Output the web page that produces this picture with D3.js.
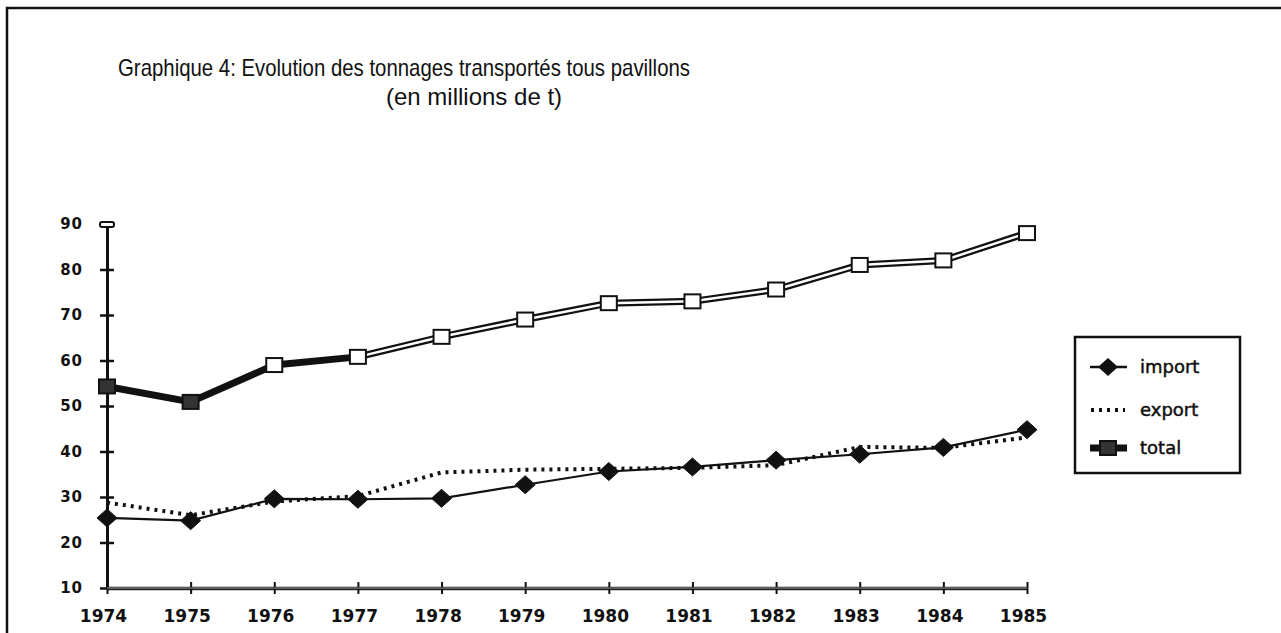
<!DOCTYPE html>
<html>
<head>
<meta charset="utf-8">
<script src="https://cdn.jsdelivr.net/npm/d3@7"></script>
<style>
  body { margin: 0; background: #fff; }
  svg { display: block; }
</style>
</head>
<body>
<div id="chart"></div>
<script>
// data (millions de t)
let years = [1974, 1975, 1976, 1977, 1978, 1979, 1980, 1981, 1982, 1983, 1984, 1985];
let importVals = [25.4, 24.8, 29.6, 29.5, 29.7, 32.7, 35.6, 36.6, 38.1, 39.4, 40.9, 44.8];
let exportVals = [28.8, 26.0, 29.0, 30.2, 35.4, 36.0, 36.2, 36.4, 37.0, 41.0, 40.8, 43.1];
let totalVals = [54.3, 50.9, 59.0, 60.8, 65.2, 69.0, 72.6, 73.0, 75.6, 81.0, 82.0, 88.0];
let yTicks = [10, 20, 30, 40, 50, 60, 70, 80, 90];
let seriesNames = ["import", "export", "total"];

let W = 1281, H = 633;

let svg = d3.select("#chart")
  .append("svg")
  .attr("width", W)
  .attr("height", H);

// outer frame (open at right and bottom)
svg.append("path")
  .attr("d", "M7,640 L7,8 L1290,8")
  .attr("fill", "none")
  .attr("stroke", "#111")
  .attr("stroke-width", 2.5);

// title
let titleFont = "Liberation Sans, Arial, sans-serif";
svg.append("text")
  .attr("x", 118).attr("y", 76)
  .attr("font-family", titleFont)
  .attr("font-size", 24)
  .attr("textLength", 572)
  .attr("lengthAdjust", "spacingAndGlyphs")
  .attr("fill", "#111")
  .text("Graphique 4: Evolution des tonnages transportés tous pavillons");
svg.append("text")
  .attr("x", 386).attr("y", 105)
  .attr("font-family", titleFont)
  .attr("font-size", 24)
  .attr("fill", "#111")
  .text("(en millions de t)");

// scales
let x = d3.scaleLinear().domain([1974, 1985]).range([107, 1027]);
let y = d3.scaleLinear().domain([10, 90]).range([588, 224]);

// y axis
let yAxis = svg.append("g")
  .attr("transform", "translate(" + x(1974) + ",0)")
  .call(d3.axisLeft(y).tickValues(yTicks).tickSizeInner(7).tickSizeOuter(0).tickPadding(17));
yAxis.select(".domain").attr("stroke", "#111").attr("stroke-width", 3);
yAxis.selectAll(".tick line").attr("stroke", "#111").attr("stroke-width", 2.5);
yAxis.selectAll(".tick").append("line")
  .attr("x1", 0).attr("x2", 7)
  .attr("stroke", "#111").attr("stroke-width", 2.5);
yAxis.selectAll(".tick text")
  .attr("font-family", "DejaVu Sans, sans-serif")
  .attr("font-weight", "bold")
  .attr("font-size", 15)
  .attr("letter-spacing", 1)
  .attr("fill", "#111");
// hollow cap at the top of the axis
yAxis.selectAll(".tick").filter(d => d == 90)
  .append("rect")
  .attr("x", -7).attr("y", -2.5).attr("width", 14).attr("height", 5).attr("rx", 2)
  .attr("fill", "#fff").attr("stroke", "#111").attr("stroke-width", 2);

// x axis
let xAxis = svg.append("g")
  .attr("transform", "translate(0," + y(10) + ")")
  .call(d3.axisBottom(x).tickValues(years).tickFormat(d3.format("d"))
    .tickSizeInner(6).tickSizeOuter(0).tickPadding(16));
xAxis.select(".domain").attr("stroke", "#222").attr("stroke-width", 3.5);
xAxis.selectAll(".tick line").attr("stroke", "#111").attr("stroke-width", 2);
xAxis.selectAll(".tick").append("line")
  .attr("y1", 0).attr("y2", -6)
  .attr("stroke", "#111").attr("stroke-width", 2);
xAxis.selectAll(".tick text")
  .attr("dx", -4)
  .attr("font-family", "DejaVu Sans, sans-serif")
  .attr("font-weight", "bold")
  .attr("font-size", 17)
  .attr("fill", "#111");
// faint double line look on the x axis
svg.append("line")
  .attr("x1", x(1974)).attr("x2", x(1985))
  .attr("y1", y(10)).attr("y2", y(10))
  .attr("stroke", "#999").attr("stroke-width", 1);

let line = d3.line()
  .x(d => x(d[0]))
  .y(d => y(d[1]));

let imp = years.map((yr, i) => [yr, importVals[i]]);
let exp = years.map((yr, i) => [yr, exportVals[i]]);
let tot = years.map((yr, i) => [yr, totalVals[i]]);

// total: double line with hollow squares
svg.append("path")
  .datum(tot)
  .attr("d", line)
  .attr("fill", "none")
  .attr("stroke", "#111")
  .attr("stroke-width", 7)
  .attr("stroke-linejoin", "round");
svg.append("path")
  .datum(tot.slice(3))
  .attr("d", line)
  .attr("fill", "none")
  .attr("stroke", "#fff")
  .attr("stroke-width", 2.5);
svg.append("g")
  .selectAll("rect")
  .data(tot)
  .enter().append("rect")
    .attr("x", d => x(d[0]) - 8)
    .attr("y", d => y(d[1]) - 7)
    .attr("width", 16)
    .attr("height", 14)
    .attr("fill", (d, i) => i < 2 ? "#333" : "#fff")
    .attr("stroke", "#111")
    .attr("stroke-width", 2);

// export: dotted line
svg.append("path")
  .datum(exp)
  .attr("d", line)
  .attr("fill", "none")
  .attr("stroke", "#111")
  .attr("stroke-width", 4)
  .attr("stroke-dasharray", "3,5");

// import: thin line with black diamonds
svg.append("path")
  .datum(imp)
  .attr("d", line)
  .attr("fill", "none")
  .attr("stroke", "#111")
  .attr("stroke-width", 2.2);
let diamond = "M-10,0 L0,-9 L10,0 L0,9 Z";
svg.append("g")
  .selectAll("path")
  .data(imp)
  .enter().append("path")
    .attr("transform", d => "translate(" + x(d[0]) + "," + y(d[1]) + ")")
    .attr("d", diamond)
    .attr("fill", "#111")
    .attr("stroke", "#111")
    .attr("stroke-width", 1);

// legend
let lg = svg.append("g");
lg.append("rect")
  .attr("x", 1075).attr("y", 337)
  .attr("width", 165).attr("height", 136)
  .attr("fill", "#fff")
  .attr("stroke", "#111")
  .attr("stroke-width", 2.5);
let rowsY = [367, 410, 448];
// import symbol
lg.append("line").attr("x1", 1090).attr("x2", 1127).attr("y1", rowsY[0]).attr("y2", rowsY[0])
  .attr("stroke", "#111").attr("stroke-width", 2.5);
lg.append("path").attr("transform", "translate(1108," + rowsY[0] + ")")
  .attr("d", diamond).attr("fill", "#111");
// export symbol
lg.append("line").attr("x1", 1091).attr("x2", 1125).attr("y1", rowsY[1]).attr("y2", rowsY[1])
  .attr("stroke", "#111").attr("stroke-width", 4).attr("stroke-dasharray", "3,5");
// total symbol
lg.append("line").attr("x1", 1090).attr("x2", 1127).attr("y1", rowsY[2]).attr("y2", rowsY[2])
  .attr("stroke", "#111").attr("stroke-width", 7);
lg.append("rect").attr("x", 1100).attr("y", rowsY[2] - 7).attr("width", 16).attr("height", 14)
  .attr("fill", "#333").attr("stroke", "#111").attr("stroke-width", 2);
lg.selectAll("text.lbl")
  .data(seriesNames)
  .enter().append("text")
    .attr("class", "lbl")
    .attr("x", 1140)
    .attr("y", (d, i) => rowsY[i] + 6)
    .attr("font-family", "DejaVu Sans, sans-serif")
    .attr("font-size", 18)
    .attr("fill", "#111")
    .attr("stroke", "#111")
    .attr("stroke-width", 0.5)
    .text(d => d);
</script>
</body>
</html>
